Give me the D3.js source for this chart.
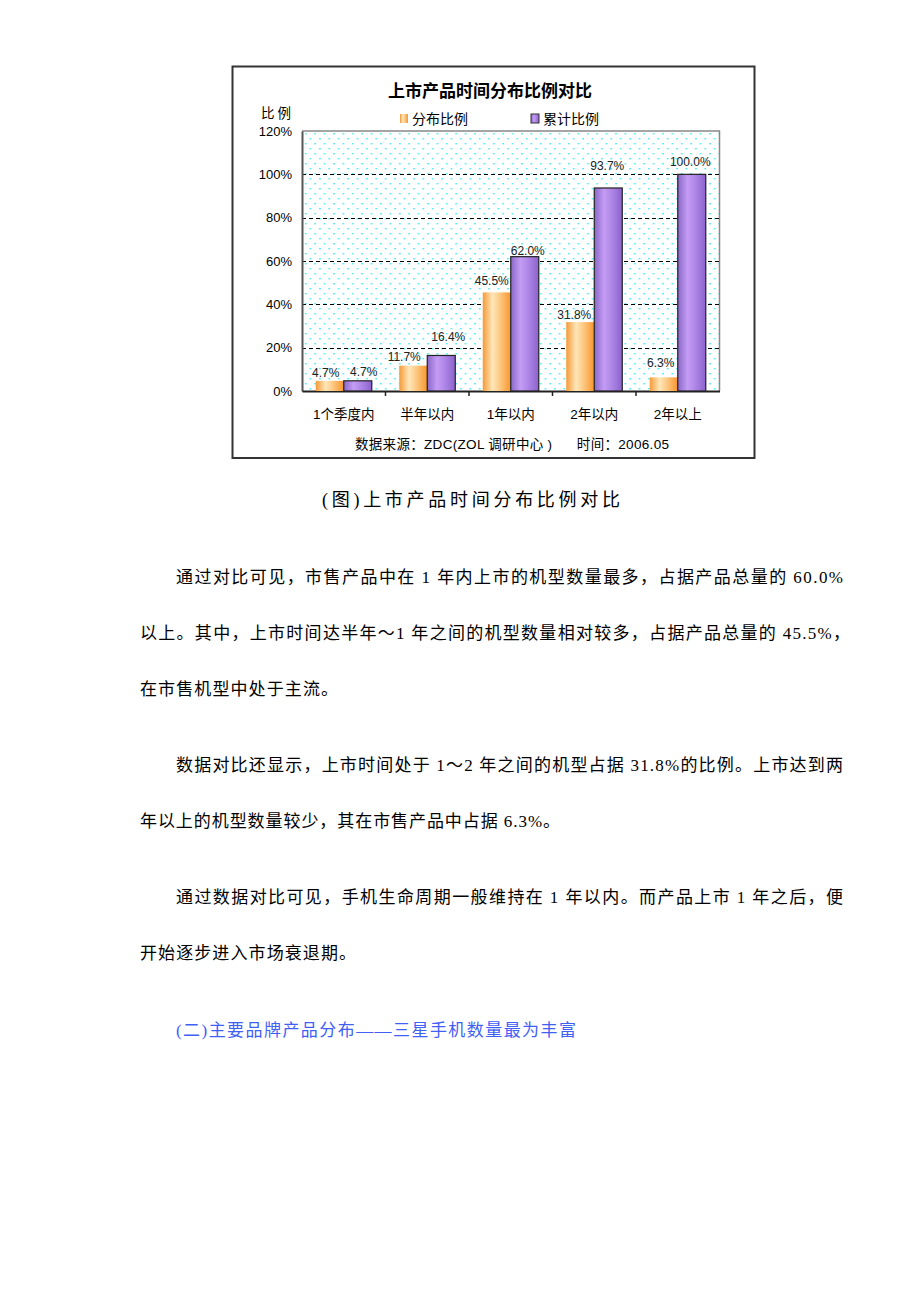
<!DOCTYPE html>
<html>
<head>
<meta charset="utf-8">
<script src="https://cdn.jsdelivr.net/npm/d3@7"></script>
<style>
html,body{margin:0;padding:0;background:#fff;}
svg{display:block;}
</style>
</head>
<body>
<svg id="page" width="920" height="1302"></svg>
<script>
// ---- data ----
const categories = ["1个季度内", "半年以内", "1年以内", "2年以内", "2年以上"];
const seriesNames = ["分布比例", "累计比例"];
const distribution = [4.7, 11.7, 45.5, 31.8, 6.3];
const cumulative = [4.7, 16.4, 62.0, 93.7, 100.0];
const yTicks = [0, 20, 40, 60, 80, 100, 120];
const chartTitle = "上市产品时间分布比例对比";
const yAxisTitle = "比 例";
const sourceText = "数据来源：ZDC(ZOL 调研中心 )      时间：2006.05";
const caption = "(图)上市产品时间分布比例对比";
const paragraphs = [
  ["通过对比可见，市售产品中在 1 年内上市的机型数量最多，占据产品总量的 60.0%",
   "以上。其中，上市时间达半年～1 年之间的机型数量相对较多，占据产品总量的 45.5%，",
   "在市售机型中处于主流。"],
  ["数据对比还显示，上市时间处于 1～2 年之间的机型占据 31.8%的比例。上市达到两",
   "年以上的机型数量较少，其在市售产品中占据 6.3%。"],
  ["通过数据对比可见，手机生命周期一般维持在 1 年以内。而产品上市 1 年之后，便",
   "开始逐步进入市场衰退期。"]
];
const heading = "(二)主要品牌产品分布——三星手机数量最为丰富";

// ---- drawing ----
const svg = d3.select("#page");
const defs = svg.append("defs");

const pat = defs.append("pattern").attr("id","dots").attr("patternUnits","userSpaceOnUse")
  .attr("width",9.4).attr("height",10).attr("x",302).attr("y",131);
pat.append("rect").attr("width",9.4).attr("height",10).attr("fill","#fff");
pat.append("rect").attr("x",3).attr("y",2).attr("width",1.6).attr("height",1.4).attr("fill","#3cecf2");
pat.append("rect").attr("x",7.7).attr("y",7).attr("width",1.6).attr("height",1.4).attr("fill","#3cecf2");

function grad(id, stops){
  const g = defs.append("linearGradient").attr("id",id).attr("x1","0").attr("x2","1").attr("y1","0").attr("y2","0");
  stops.forEach(s=>g.append("stop").attr("offset",s[0]).attr("stop-color",s[1]));
}
grad("gOrange", [[0,"#f59a38"],[0.35,"#ffe6b8"],[0.55,"#fdd090"],[1,"#f8962c"]]);
grad("gPurple", [[0,"#8a68c8"],[0.35,"#c49cf4"],[0.6,"#b088e8"],[1,"#8c62cc"]]);

// chart frame
svg.append("rect").attr("x",232.5).attr("y",66.5).attr("width",522).attr("height",391.5)
  .attr("fill","#fff").attr("stroke","#333").attr("stroke-width",2);

const plot = {l:302, r:719.5, t:131, b:391};
const x0 = d3.scaleBand().domain(categories).range([plot.l, plot.r]).paddingInner(0).paddingOuter(0);
const x1 = d3.scaleBand().domain(seriesNames).range([0, x0.bandwidth()]).paddingInner(0).paddingOuter(0.49);
const y = d3.scaleLinear().domain([0,120]).range([plot.b, plot.t]);

svg.append("rect").attr("x",plot.l).attr("y",plot.t).attr("width",plot.r-plot.l).attr("height",plot.b-plot.t)
  .attr("fill","url(#dots)");
svg.append("path").attr("d",`M${plot.l},${plot.t}H${plot.r}V${plot.b}`).attr("fill","none")
  .attr("stroke","#888").attr("stroke-width",1.5);

// gridlines
svg.append("g").selectAll("line").data(yTicks.filter(t=>t>0 && t<120)).join("line")
  .attr("x1",plot.l).attr("x2",plot.r).attr("y1",d=>Math.round(y(d))+0.5).attr("y2",d=>Math.round(y(d))+0.5)
  .attr("stroke","#000").attr("stroke-width",1).attr("stroke-dasharray","4,3");

// y axis
const yAxis = d3.axisLeft(y).tickValues(yTicks).tickSize(0).tickPadding(10).tickFormat(d=>d+"%");
const yg = svg.append("g").attr("transform",`translate(${plot.l},0)`).call(yAxis);
yg.select(".domain").attr("stroke","#555").attr("stroke-width",2);
yg.selectAll("text").attr("font-family","Liberation Sans, Arial, sans-serif").attr("font-size",13).attr("fill","#000");

// x axis
const xAxis = d3.axisBottom(x0).tickSize(0).tickPadding(18);
const xg = svg.append("g").attr("transform",`translate(0,${plot.b})`).call(xAxis);
xg.select(".domain").attr("stroke","#222").attr("stroke-width",2);
xg.selectAll("text").attr("font-family","Liberation Sans, Noto Sans CJK SC, sans-serif").attr("font-size",13.5).attr("fill","#000");
svg.append("g").selectAll("line").data(categories.slice(1)).join("line")
  .attr("x1",d=>x0(d)).attr("x2",d=>x0(d)).attr("y1",plot.b).attr("y2",plot.b+5)
  .attr("stroke","#222").attr("stroke-width",1.5);

// label nudges (pixels, [dx, lift above bar top]) per series, per category – manual placement as in the source
const nudgeDist = [[-4,8],[-9,8.6],[-5,11.4],[-6,7],[-3,14.3]];
const nudgeCum  = [[6,9],[7,18.5],[3,5.7],[-1,22],[-1.5,12.3]];

// bars
const rows = categories.map((c,i)=>({cat:c, vals:[
  {s:seriesNames[0],v:distribution[i],n:nudgeDist[i]},
  {s:seriesNames[1],v:cumulative[i],n:nudgeCum[i]}]}));
const groups = svg.append("g").selectAll("g").data(rows).join("g")
  .attr("transform",d=>`translate(${x0(d.cat)},0)`);
groups.selectAll("rect").data(d=>d.vals).join("rect")
  .attr("x",d=>x1(d.s)).attr("width",x1.bandwidth())
  .attr("y",d=>y(d.v)).attr("height",d=>plot.b-y(d.v))
  .attr("fill",d=>d.s===seriesNames[0]?"url(#gOrange)":"url(#gPurple)")
  .attr("stroke",d=>d.s===seriesNames[0]?"none":"#222").attr("stroke-width",1.2);
groups.selectAll("text").data(d=>d.vals).join("text")
  .attr("x",d=>x1(d.s)+x1.bandwidth()/2+d.n[0]).attr("y",d=>y(d.v)-d.n[1])
  .attr("dy","0.35em")
  .attr("text-anchor","middle").attr("font-family","Liberation Sans, Arial, sans-serif")
  .attr("font-size",12).attr("fill","#222").text(d=>d.v.toFixed(1)+"%");

// title
svg.append("text").attr("x",490).attr("y",97).attr("text-anchor","middle")
  .attr("font-family","Noto Sans CJK SC, sans-serif").attr("font-weight","bold").attr("font-size",17)
  .attr("fill","#000").text(chartTitle);
svg.append("text").attr("x",261).attr("y",118)
  .attr("font-family","Noto Sans CJK SC, sans-serif").attr("font-size",13.5).attr("fill","#000").text(yAxisTitle);

// legend
const legX = [400, 531];
const leg = svg.append("g").selectAll("g").data(seriesNames).join("g")
  .attr("transform",(d,i)=>`translate(${legX[i]},114)`);
leg.append("rect").attr("width",8).attr("height",9)
  .attr("fill",(d,i)=>i===0?"url(#gOrange)":"url(#gPurple)")
  .attr("stroke",(d,i)=>i===0?"none":"#333").attr("stroke-width",1);
leg.append("text").attr("x",12).attr("y",10).attr("font-family","Noto Sans CJK SC, sans-serif")
  .attr("font-size",14).attr("fill","#000").text(d=>d);

// source
svg.append("text").attr("x",355).attr("y",449).attr("textLength",314).attr("lengthAdjust","spacing")
  .attr("font-family","Liberation Sans, Noto Sans CJK SC, sans-serif")
  .attr("font-size",13.5).attr("fill","#000").attr("xml:space","preserve").style("white-space","pre").text(sourceText);

// caption
const bodyFont = "Liberation Serif, Noto Sans CJK SC, serif";
svg.append("text").attr("x",322).attr("y",506).attr("textLength",298).attr("lengthAdjust","spacing")
  .attr("font-family",bodyFont).attr("font-size",18).attr("fill","#000").text(caption);

// paragraphs
const lineSpecs = [
  [176,843,583],[140,850,639],[140,338,695],
  [176,843,771],[140,560,827],
  [176,843,903],[140,356,959]
];
let k=0;
paragraphs.forEach(p=>p.forEach(line=>{
  const s = lineSpecs[k++];
  svg.append("text").attr("x",s[0]).attr("y",s[2]).attr("textLength",s[1]-s[0]).attr("lengthAdjust","spacing")
    .attr("font-family",bodyFont).attr("font-size",17).attr("fill","#000").text(line);
}));
svg.append("text").attr("x",176).attr("y",1036).attr("textLength",400).attr("lengthAdjust","spacing")
  .attr("font-family",bodyFont).attr("font-size",17).attr("fill","#3f5ff5").text(heading);
</script>
</body>
</html>
